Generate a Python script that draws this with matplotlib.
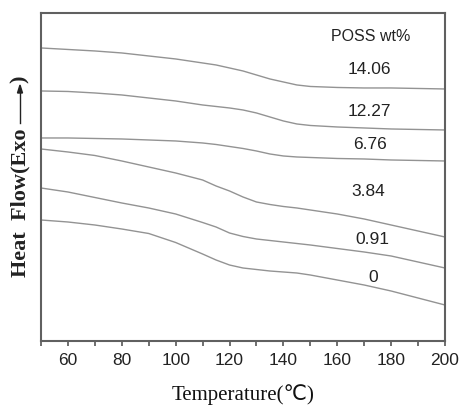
import matplotlib.pyplot as plt
import numpy as np

# Temperatura (°C) y curvas DSC desplazadas verticalmente (unidades arbitrarias)
temperature = [50, 60, 70, 80, 90, 100, 110, 115, 120, 125, 130, 135, 140, 145, 150, 160, 170, 180, 190, 200]

flow_1406 = [29.30, 29.15, 29.00, 28.80, 28.50, 28.20, 27.80, 27.60, 27.30, 27.00,
             26.60, 26.20, 25.90, 25.60, 25.45, 25.35, 25.30, 25.30, 25.25, 25.20]
flow_1227 = [25.00, 24.95, 24.80, 24.60, 24.30, 24.00, 23.60, 23.45, 23.30, 23.10,
             22.80, 22.40, 22.00, 21.70, 21.55, 21.40, 21.30, 21.20, 21.15, 21.10]
flow_676 = [20.30, 20.30, 20.25, 20.20, 20.10, 20.00, 19.80, 19.65, 19.45, 19.25,
            19.00, 18.70, 18.50, 18.40, 18.35, 18.25, 18.20, 18.10, 18.05, 18.00]
flow_384 = [19.20, 18.90, 18.55, 18.00, 17.40, 16.80, 16.10, 15.50, 15.00, 14.40,
            13.90, 13.65, 13.45, 13.30, 13.10, 12.70, 12.20, 11.60, 11.00, 10.40]
flow_091 = [15.30, 14.90, 14.35, 13.80, 13.30, 12.70, 11.85, 11.40, 10.80, 10.45,
            10.20, 10.05, 9.90, 9.75, 9.60, 9.25, 8.90, 8.50, 7.90, 7.30]
flow_000 = [12.10, 11.90, 11.60, 11.20, 10.75, 9.85, 8.70, 8.10, 7.60, 7.30,
            7.15, 7.00, 6.90, 6.80, 6.60, 6.10, 5.60, 5.00, 4.30, 3.60]

curves = [flow_1406, flow_1227, flow_676, flow_384, flow_091, flow_000]
poss_labels = ['14.06', '12.27', '6.76', '3.84', '0.91', '0']
label_y = [27.1, 22.9, 19.6, 14.9, 10.1, 6.4]
label_x = [172.0, 172.0, 172.0, 171.5, 173.0, 173.5]

fig = plt.figure(figsize=(4.62, 4.05), dpi=100)
ax = fig.add_axes([0.0887, 0.158, 0.8745, 0.810])

for flow in curves:
    ax.plot(temperature, flow, color='#939393', linewidth=1.0)

ax.text(172.5, 30.4, 'POSS wt%', ha='center', va='center', fontsize=11.5,
        family='Liberation Sans', color='#222222')
for lx, ly, lab in zip(label_x, label_y, poss_labels):
    ax.text(lx, ly, lab, ha='center', va='center', fontsize=12.5,
            family='Liberation Sans', color='#222222')

ax.set_xlim(50, 200)
ax.set_ylim(0, 32.8)
ax.set_xticks(np.arange(60, 201, 20))
ax.set_xticks(np.arange(50, 201, 10), minor=True)
ax.set_yticks([])
ax.tick_params(axis='x', which='both', direction='out', length=3.5, width=1.2,
               color='#555555', labelsize=12.5, labelcolor='#222222', pad=5)
for lbl in ax.get_xticklabels():
    lbl.set_family('Liberation Sans')
for spine in ax.spines.values():
    spine.set_color('#606060')
    spine.set_linewidth(1.5)

# Etiquetas de los ejes
fig.text(243 / 462, 1 - 395 / 405, 'Temperature(\u2103)', ha='center', va='center',
         fontsize=15, family=['Liberation Serif', 'DejaVu Sans'], color='#111111')

fig.text(20 / 462, 1 - 277 / 405, 'Heat  Flow(Exo', rotation=90, ha='center', va='bottom',
         fontsize=16, family='Liberation Serif', fontweight='bold', color='#222222')
fig.text(20 / 462, 1 - 83 / 405, ')', rotation=90, ha='center', va='bottom',
         fontsize=16, family='Liberation Serif', fontweight='bold', color='#222222')
# flecha "exo" dentro de la etiqueta vertical
fig.add_artist(plt.Line2D([20 / 462, 20 / 462], [1 - 123 / 405, 1 - 92 / 405],
                          color='#222222', linewidth=1.0))
fig.add_artist(plt.Polygon([[17.5 / 462, 1 - 93 / 405], [22.5 / 462, 1 - 93 / 405],
                            [20 / 462, 1 - 85 / 405]], closed=True, color='#222222'))

plt.savefig('out.png', dpi=100)
